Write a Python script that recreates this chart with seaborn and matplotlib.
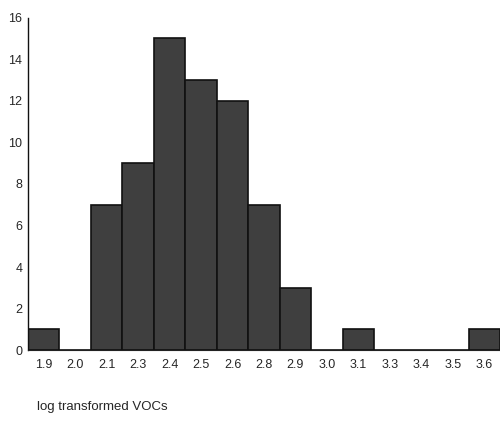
import matplotlib
matplotlib.use("Agg")
import matplotlib.pyplot as plt
import seaborn as sns
import pandas as pd

categories = ["1.9", "2.0", "2.1", "2.3", "2.4", "2.5", "2.6", "2.8",
              "2.9", "3.0", "3.1", "3.3", "3.4", "3.5", "3.6"]
counts = [1, 0, 7, 9, 15, 13, 12, 7, 3, 0, 1, 0, 0, 0, 1]
y_ticks = [0, 2, 4, 6, 8, 10, 12, 14, 16]

df = pd.DataFrame({"bin": categories, "count": counts})

sns.set_style("white")
plt.rcParams["font.family"] = ["Liberation Sans", "DejaVu Sans"]

fig = plt.figure(figsize=(5.0, 4.21), dpi=100)
ax = fig.add_axes([0.056, 0.168, 0.944, 0.79])

sns.barplot(data=df, x="bin", y="count", order=categories, color="#3f3f3f",
            saturation=1, width=1.0, edgecolor="#111111", linewidth=1.2, ax=ax)

ax.set_xlim(-0.5, len(categories) - 0.5)
ax.set_ylim(0, 16)
ax.set_yticks(y_ticks)
ax.set_yticklabels([str(t) for t in y_ticks], fontsize=9)
ax.set_xticks(range(len(categories)))
ax.set_xticklabels(categories, fontsize=9)
ax.tick_params(axis="y", direction="out", length=3, width=1.2, pad=1, color="#111111")
ax.tick_params(axis="x", direction="out", length=2, width=1.2, pad=4, color="#111111")

for side in ["top", "right"]:
    ax.spines[side].set_visible(False)
ax.spines["left"].set_linewidth(1.0)
ax.spines["left"].set_color("#111111")
ax.spines["bottom"].set_linewidth(0.8)
ax.spines["bottom"].set_color("#222222")

ax.set_ylabel("")
ax.set_xlabel("")
fig.text(0.074, 0.018, "log transformed VOCs", fontsize=9.5, ha="left", va="bottom")

fig.savefig("out.png", dpi=100)
